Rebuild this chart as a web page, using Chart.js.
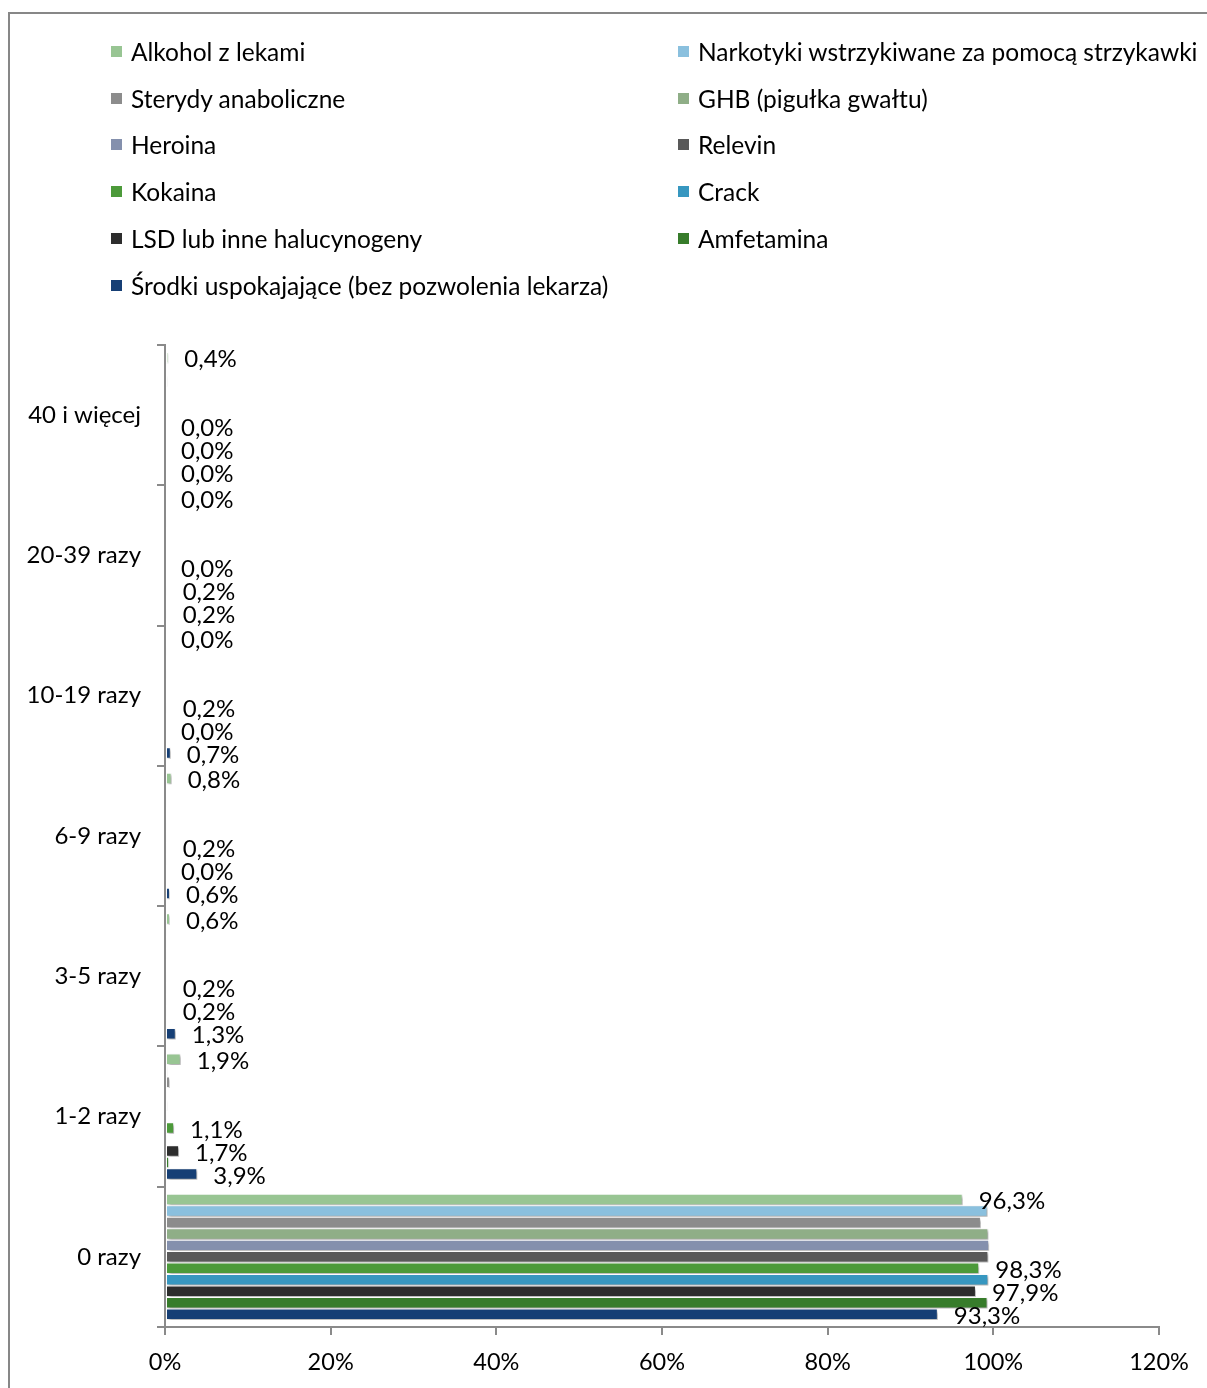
<!DOCTYPE html>
<html lang="pl">
<head>
<meta charset="utf-8">
<title>Częstość używania substancji</title>
<script src="https://cdn.jsdelivr.net/npm/chart.js@4.4.1/dist/chart.umd.min.js"></script>
<style>
    body {
        margin: 0;
        background: #fff;
        font-family: Lato, "Open Sans", sans-serif;
    }

    .frame {
        position: absolute;
        left: 8px;
        top: 12px;
        width: 1260px;
        height: 1450px;
        border: 2px solid #878787;
        box-sizing: border-box;
    }

    #legend {
        position: absolute;
        left: 111px;
        top: 28px;
        display: grid;
        grid-template-columns: 567px auto;
        grid-auto-rows: 46.8px;
        font-size: 24.5px;
        color: #000;
    }

    .legend-item {
        display: flex;
        align-items: center;
        white-space: nowrap;
    }

    .legend-box {
        width: 11px;
        height: 11px;
        margin-right: 9px;
        flex: none;
    }

    canvas {
        position: absolute;
        left: 0;
        top: 0;
    }
</style>
</head>
<body>

<div class="frame"></div>
<canvas id="usageChart" width="1207" height="1388"></canvas>
<div id="legend"></div>

<script>
/* ========= DATA ========= */

const categories = [
    "40 i więcej",
    "20-39 razy",
    "10-19 razy",
    "6-9 razy",
    "3-5 razy",
    "1-2 razy",
    "0 razy"
];

const alkohol    = [0.4, 0.0, 0.0, 0.8, 0.6, 1.9, 96.3];
const narkotyki  = [0.0, 0.0, 0.2, 0.0, 0.2, 0.3, 99.3];
const sterydy    = [0.3, 0.2, 0.0, 0.2, 0.2, 0.6, 98.5];
const ghb        = [0.0, 0.0, 0.2, 0.0, 0.2, 0.2, 99.4];
const heroina    = [0.0, 0.0, 0.0, 0.2, 0.0, 0.3, 99.5];
const relevin    = [0.0, 0.0, 0.0, 0.2, 0.2, 0.2, 99.4];
const kokaina    = [0.0, 0.0, 0.2, 0.2, 0.2, 1.1, 98.3];
const crack      = [0.0, 0.0, 0.0, 0.2, 0.2, 0.2, 99.4];
const lsd        = [0.0, 0.2, 0.0, 0.0, 0.2, 1.7, 97.9];
const amfetamina = [0.0, 0.0, 0.0, 0.0, 0.2, 0.5, 99.3];
const srodki     = [0.0, 0.2, 0.7, 0.6, 1.3, 3.9, 93.3];

const xTicks = [0, 20, 40, 60, 80, 100, 120];

/* ========= SERIES ========= */

const series = [
    { label: "Alkohol z lekami", data: alkohol, color: "#98c593", showValues: true },
    { label: "Narkotyki wstrzykiwane za pomocą strzykawki", data: narkotyki, color: "#8ac0de" },
    { label: "Sterydy anaboliczne", data: sterydy, color: "#8c8c8c" },
    { label: "GHB (pigułka gwałtu)", data: ghb, color: "#8fae87" },
    { label: "Heroina", data: heroina, color: "#8490ad" },
    { label: "Relevin", data: relevin, color: "#595959" },
    { label: "Kokaina", data: kokaina, color: "#4c9a3a", showValues: true },
    { label: "Crack", data: crack, color: "#3797c0" },
    { label: "LSD lub inne halucynogeny", data: lsd, color: "#2d2d2d", showValues: true },
    { label: "Amfetamina", data: amfetamina, color: "#377c2b" },
    { label: "Środki uspokajające (bez pozwolenia lekarza)", data: srodki, color: "#163f75", showValues: true }
];

const FONT = "Lato, 'Open Sans', sans-serif";

function formatPercent(v) {
    return v.toFixed(1).replace(".", ",") + "%";
}

/* ========= PLUGINS ========= */

// soft shadow under the bars, like the office chart
const barShadow = {
    id: "barShadow",
    beforeDatasetsDraw(chart) {
        const c = chart.ctx;
        c.save();
        c.shadowColor = "rgba(0,0,0,0.35)";
        c.shadowOffsetX = 2;
        c.shadowOffsetY = 2;
        c.shadowBlur = 3;
    },
    afterDatasetsDraw(chart) {
        chart.ctx.restore();
    }
};

// value labels at the end of the bars
const valueLabels = {
    id: "valueLabels",
    afterDatasetsDraw(chart) {
        const c = chart.ctx;
        c.save();
        c.font = "24px " + FONT;
        c.fillStyle = "#000";
        c.textAlign = "left";
        c.textBaseline = "middle";

        chart.data.datasets.forEach((ds, i) => {
            if (!ds.showValues) return;
            const meta = chart.getDatasetMeta(i);
            meta.data.forEach((bar, j) => {
                c.fillText(formatPercent(ds.data[j]), bar.x + 16, bar.y + 2);
            });
        });

        c.restore();
    }
};

/* ========= CHART ========= */

const ctx = document.getElementById("usageChart");

const chart = new Chart(ctx, {

    type: "bar",

    data: {
        labels: categories,
        datasets: series.map(s => ({
            label: s.label,
            data: s.data,
            backgroundColor: s.color,
            borderColor: "#ffffff",
            borderWidth: 1,
            borderSkipped: false,
            barPercentage: 1,
            categoryPercentage: 0.9,
            showValues: !!s.showValues
        }))
    },

    options: {
        indexAxis: "y",
        responsive: false,
        devicePixelRatio: 1,
        animation: false,

        layout: {
            padding: { top: 345, right: 48, bottom: 0, left: 0 }
        },

        plugins: {
            legend: { display: false },
            tooltip: { enabled: false }
        },

        scales: {

            x: {
                min: 0,
                max: 120,
                afterBuildTicks(scale) {
                    scale.ticks = xTicks.map(v => ({ value: v }));
                },
                afterFit(scale) {
                    scale.height = 61;
                },
                border: { color: "#8a8a8a", width: 2 },
                grid: {
                    drawOnChartArea: false,
                    tickLength: 8,
                    color: "#8a8a8a",
                    lineWidth: 2
                },
                ticks: {
                    padding: 13,
                    color: "#000",
                    font: { family: FONT, size: 23.5 },
                    callback: v => v + "%"
                }
            },

            y: {
                afterFit(scale) {
                    scale.width = 165;
                },
                border: { color: "#8a8a8a", width: 2 },
                grid: {
                    offset: true,
                    drawOnChartArea: false,
                    tickLength: 8,
                    color: "#8a8a8a",
                    lineWidth: 2
                },
                ticks: {
                    padding: 16,
                    color: "#000",
                    font: { family: FONT, size: 24 }
                }
            }
        }
    },

    plugins: [barShadow, valueLabels]
});

/* ========= LEGEND ========= */

const legendEl = document.getElementById("legend");

chart.data.datasets.forEach(ds => {
    const item = document.createElement("div");
    item.className = "legend-item";

    const box = document.createElement("span");
    box.className = "legend-box";
    box.style.background = ds.backgroundColor;

    const text = document.createElement("span");
    text.textContent = ds.label;

    item.appendChild(box);
    item.appendChild(text);
    legendEl.appendChild(item);
});
</script>
</body>
</html>
